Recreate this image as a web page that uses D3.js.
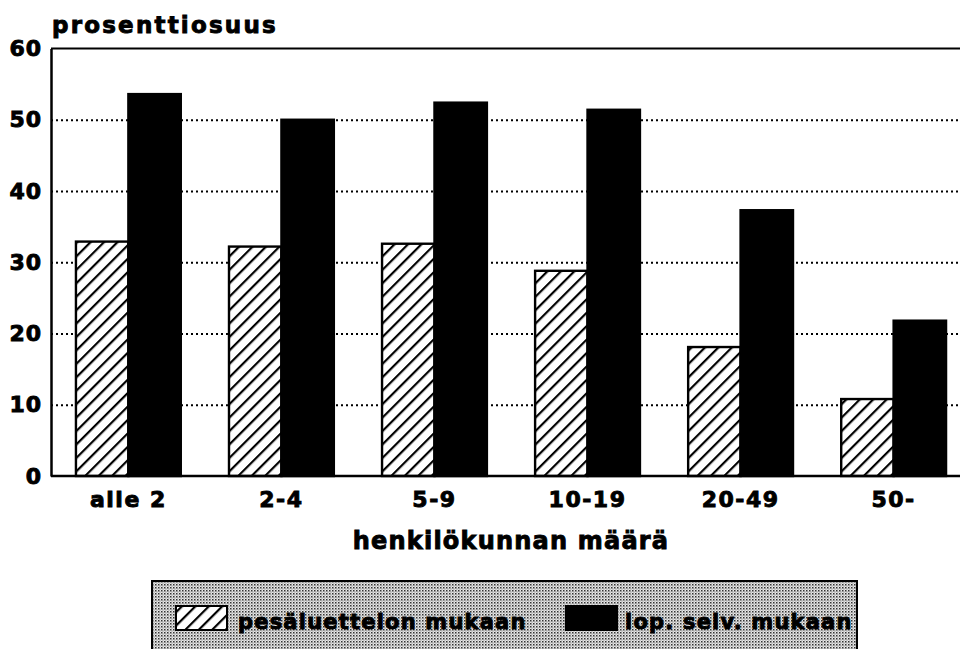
<!DOCTYPE html>
<html>
<head>
<meta charset="utf-8">
<script src="https://cdn.jsdelivr.net/npm/d3@7/dist/d3.min.js"></script>
<style>
  html, body { margin: 0; padding: 0; background: #fff; }
  svg { display: block; }
  text { font-family: "DejaVu Sans", sans-serif; font-weight: bold; fill: #000; }
  .heavy { stroke: #000; stroke-width: 0.9px; }
</style>
</head>
<body>
<svg id="chart" width="960" height="649"></svg>
<script>
const categories = ["alle 2", "2-4", "5-9", "10-19", "20-49", "50-"];
const seriesNames = ["pesäluettelon mukaan", "lop. selv. mukaan"];
const registerShare = [32.9, 32.2, 32.6, 28.8, 18.1, 10.8];
const surveyShare = [53.6, 50.0, 52.4, 51.4, 37.3, 21.8];
const yTicks = [0, 10, 20, 30, 40, 50, 60];

const svg = d3.select("#chart");
const W = 960, H = 649;
const plot = { left: 51, right: 971, top: 48.5, bottom: 476 };

// patterns: hatch for first series, halftone for the legend box
const defs = svg.append("defs");
const hatch = defs.append("pattern")
  .attr("id", "hatch")
  .attr("patternUnits", "userSpaceOnUse")
  .attr("width", 9.5).attr("height", 9.5)
  .attr("patternTransform", "rotate(45)");
hatch.append("rect").attr("width", 9.5).attr("height", 9.5).attr("fill", "#fff");
hatch.append("line")
  .attr("x1", 0).attr("y1", 0).attr("x2", 0).attr("y2", 9.5)
  .attr("stroke", "#000").attr("stroke-width", 4.4);

const halftone = defs.append("pattern")
  .attr("id", "halftone")
  .attr("patternUnits", "userSpaceOnUse")
  .attr("width", 3).attr("height", 3);
halftone.append("rect").attr("width", 3).attr("height", 3).attr("fill", "#e8e8e8");
halftone.append("rect").attr("width", 1.5).attr("height", 1.5).attr("fill", "#333");
halftone.append("rect").attr("x", 1.5).attr("y", 1.5).attr("width", 1).attr("height", 1).attr("fill", "#666");

const x = d3.scaleBand()
  .domain(categories)
  .range([plot.left, plot.right])
  .paddingInner(0.315)
  .paddingOuter(0.163);

const xSub = d3.scaleBand()
  .domain(seriesNames)
  .range([0, x.bandwidth()]);

const y = d3.scaleLinear().domain([0, 60]).range([plot.bottom, plot.top]);

const fills = { [seriesNames[0]]: "url(#hatch)", [seriesNames[1]]: "#000" };

// grid lines
const grid = svg.append("g")
  .attr("transform", `translate(${plot.left},0)`)
  .call(d3.axisLeft(y).tickValues(yTicks.filter(v => v > 0 && v < 60))
    .tickSize(-(W - plot.left)).tickFormat(""));
grid.select(".domain").remove();
grid.selectAll("line")
  .attr("stroke", "#000")
  .attr("stroke-width", 2)
  .attr("stroke-dasharray", "2,3");

// top line at 60
svg.append("line")
  .attr("x1", plot.left).attr("x2", W)
  .attr("y1", y(60)).attr("y2", y(60))
  .attr("stroke", "#000").attr("stroke-width", 2);

// bars
const rows = categories.map((c, i) => ({ cat: c, values: [registerShare[i], surveyShare[i]] }));
const groups = svg.append("g").selectAll("g")
  .data(rows).join("g")
  .attr("transform", d => `translate(${x(d.cat)},0)`);

groups.selectAll("rect")
  .data(d => d.values.map((v, j) => ({ name: seriesNames[j], value: v })))
  .join("rect")
  .attr("x", d => xSub(d.name))
  .attr("y", d => y(d.value))
  .attr("width", xSub.bandwidth())
  .attr("height", d => y(0) - y(d.value))
  .attr("fill", d => fills[d.name])
  .attr("stroke", "#000")
  .attr("stroke-width", 2.4);

// y axis
const yAxis = svg.append("g")
  .attr("transform", `translate(${plot.left},0)`)
  .call(d3.axisLeft(y).tickValues(yTicks).tickSize(0).tickPadding(9));
yAxis.select(".domain").attr("stroke", "#000").attr("stroke-width", 2.5);
yAxis.selectAll("text")
  .attr("class", "heavy")
  .style("font-size", "22px")
  .style("letter-spacing", "1px")
  .style("font-family", "'DejaVu Sans', sans-serif");

// x axis
const xAxis = svg.append("g")
  .attr("transform", `translate(0,${plot.bottom})`)
  .call(d3.axisBottom(x).tickSize(0).tickPadding(15));
xAxis.select(".domain").remove();
xAxis.append("line")
  .attr("x1", plot.left).attr("x2", W)
  .attr("stroke", "#000").attr("stroke-width", 2.5);
xAxis.selectAll(".tick text")
  .attr("class", "heavy")
  .style("font-size", "22px")
  .style("letter-spacing", "1.5px")
  .style("font-family", "'DejaVu Sans', sans-serif");

// titles
svg.append("text")
  .attr("class", "heavy")
  .attr("x", 52).attr("y", 33)
  .style("font-size", "23px")
  .style("letter-spacing", "2.2px")
  .text("prosenttiosuus");

svg.append("text")
  .attr("class", "heavy")
  .attr("x", (plot.left + plot.right) / 2).attr("y", 549)
  .attr("text-anchor", "middle")
  .style("font-size", "24px")
  .style("letter-spacing", "1.2px")
  .text("henkilökunnan määrä");

// legend
const legend = svg.append("g").attr("transform", "translate(152,581)");
legend.append("rect")
  .attr("width", 705).attr("height", 90)
  .attr("fill", "url(#halftone)")
  .attr("stroke", "#000").attr("stroke-width", 2);

const legendItems = [
  { name: seriesNames[0], sx: 24, tx: 86 },
  { name: seriesNames[1], sx: 414, tx: 473 }
];
const li = legend.selectAll("g.item").data(legendItems).join("g").attr("class", "item");
li.append("rect")
  .attr("x", d => d.sx).attr("y", 25)
  .attr("width", 51).attr("height", 24)
  .attr("fill", d => fills[d.name])
  .attr("stroke", "#000").attr("stroke-width", 2);
li.append("text")
  .attr("class", "heavy")
  .attr("x", d => d.tx).attr("y", 48)
  .style("font-size", "21px")
  .style("letter-spacing", "1.2px")
  .text(d => d.name);
</script>
</body>
</html>
